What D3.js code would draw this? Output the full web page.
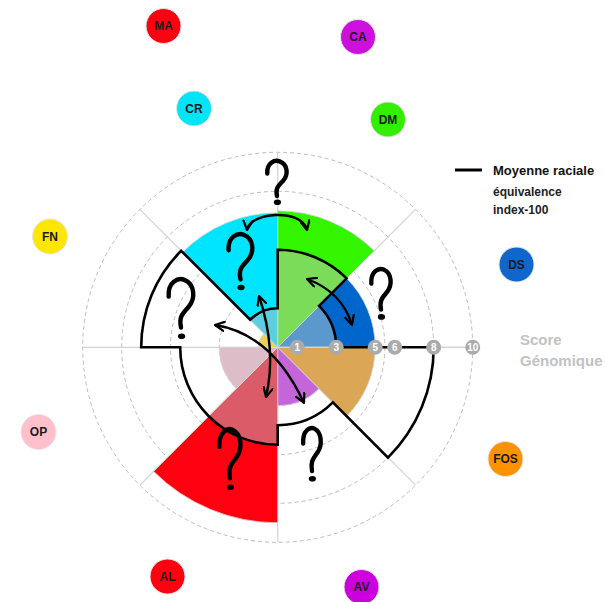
<!DOCTYPE html>
<html>
<head>
<meta charset="utf-8">
<script src="https://cdn.jsdelivr.net/npm/d3@7"></script>
<style>
  body { margin: 0; background: #fff; }
  svg { display: block; font-family: "Liberation Sans", Arial, sans-serif; }
</style>
</head>
<body>
<div class="chart"></div>
<script>
// sectors, clockwise from north
const categories = ["DM", "DS", "FOS", "AV", "AL", "OP", "FN", "CR"];
const scores = [7, 5, 5, 3, 9, 3, 1, 6.9];
const averages = [5, 3, 8, 4, 5, 5, 7, 2];
const brightColors = ["#33f500", "#0066cc", "#ff9900", "#cc00dd", "#ff0011", "#ffc0cb", "#ffe600", "#00e5ff"];
const lightColors = ["#7bdc5a", "#5b99cc", "#dba656", "#c465d9", "#db5b68", "#dcbdc8", "#e6d45a", "#5ccfdf"];

// floating bubbles
const bubbleLabels = ["MA", "CA", "CR", "DM", "FN", "DS", "OP", "FOS", "AL", "AV"];
const bubbleColors = ["#ff0011", "#cc11dd", "#00e5f5", "#33ee00", "#ffe600", "#1166cc", "#ffc0cb", "#ff9200", "#ff0011", "#cc00dd"];

const tickValues = [1, 3, 5, 6, 8, 10];
const dashedRings = [3, 5.5, 8, 10];

const width = 605;
const height = 602;
const cx = 277.7, cy = 347.3;

// layout of bubbles (pixels)
const bubblePos = [[163.5, 26], [358, 37], [194, 108.5], [388, 119.5], [50, 236.5],
                   [516.5, 264.5], [38.5, 432], [505.5, 459], [167.5, 576.5], [361.5, 587]];

const svg = d3.select(".chart").append("svg")
  .attr("width", width)
  .attr("height", height);

const r = d3.scaleLinear().domain([0, 10]).range([0, 195]);
const step = 2 * Math.PI / categories.length;

const g = svg.append("g").attr("transform", `translate(${cx},${cy})`);

// grid
g.selectAll(".ring").data(dashedRings).enter().append("circle")
  .attr("r", d => r(d))
  .attr("fill", "none")
  .attr("stroke", "#bdbdbd")
  .attr("stroke-width", 1)
  .attr("stroke-dasharray", "4,3");

g.selectAll(".spoke").data(categories).enter().append("line")
  .attr("x1", 0).attr("y1", 0)
  .attr("x2", (d, i) => r(10) * Math.sin(i * step))
  .attr("y2", (d, i) => -r(10) * Math.cos(i * step))
  .attr("stroke", "#d4d4d4")
  .attr("stroke-width", 1.2);

// fills
const arc = d3.arc();
const sectors = categories.map((c, i) => ({
  i, score: scores[i], avg: averages[i],
  startAngle: i * step, endAngle: (i + 1) * step
}));

// part above the average
g.selectAll(".outer").data(sectors.filter(d => d.score > d.avg)).enter().append("path")
  .attr("d", d => arc({innerRadius: r(d.avg), outerRadius: r(d.score), startAngle: d.startAngle, endAngle: d.endAngle}))
  .attr("fill", d => brightColors[d.i])
  .attr("stroke", "#d8d8d8")
  .attr("stroke-width", 0.8);

// part under the average
g.selectAll(".inner").data(sectors).enter().append("path")
  .attr("d", d => arc({innerRadius: 0, outerRadius: r(Math.min(d.score, d.avg)), startAngle: d.startAngle, endAngle: d.endAngle}))
  .attr("fill", d => lightColors[d.i])
  .attr("stroke", "#d8d8d8")
  .attr("stroke-width", 0.8);

// axis line on the right
g.append("line")
  .attr("x1", 0).attr("y1", 0).attr("x2", r(10)).attr("y2", 0)
  .attr("stroke", "#d4d4d4").attr("stroke-width", 1.2);

// moyenne raciale outline
const p = d3.path();
sectors.forEach((d, k) => {
  const a0 = d.startAngle - Math.PI / 2, a1 = d.endAngle - Math.PI / 2;
  if (k === 0) p.moveTo(r(d.avg) * Math.cos(a0), r(d.avg) * Math.sin(a0));
  p.arc(0, 0, r(d.avg), a0, a1);
});
p.closePath();
g.append("path")
  .attr("d", p.toString())
  .attr("fill", "none")
  .attr("stroke", "#000")
  .attr("stroke-width", 2.6)
  .attr("stroke-linejoin", "miter");

// tick badges
const ticks = g.selectAll(".tick").data(tickValues).enter().append("g")
  .attr("transform", d => `translate(${r(d)},0)`);
ticks.append("circle").attr("r", 7.5).attr("fill", "#ababab");
ticks.append("text")
  .attr("text-anchor", "middle")
  .attr("dy", "0.36em")
  .attr("fill", "#fff")
  .attr("font-size", 10)
  .attr("font-weight", "bold")
  .text(d => d);

// hand drawn question marks (bbox x, y, w, h)
const qMarks = [[266, 160, 22, 45], [227, 233, 27, 58], [167, 278, 28, 62],
                [370, 268, 22, 52], [302, 427, 20, 55], [218, 428, 24, 63]];
const qs = svg.selectAll(".q").data(qMarks).enter().append("g")
  .attr("transform", d => `translate(${d[0]},${d[1]})`);
qs.append("path")
  .attr("d", d => {
    const w = d[2], h = d[3];
    return `M${0.06 * w},${0.3 * h} C${0.02 * w},${0.06 * h} ${0.4 * w},${-0.01 * h} ${0.62 * w},${0.03 * h}` +
      ` C${1.0 * w},${0.1 * h} ${1.02 * w},${0.33 * h} ${0.78 * w},${0.46 * h}` +
      ` C${0.55 * w},${0.58 * h} ${0.42 * w},${0.62 * h} ${0.5 * w},${0.8 * h}`;
  })
  .attr("fill", "none")
  .attr("stroke", "#000")
  .attr("stroke-width", 4.4)
  .attr("stroke-linecap", "round");
qs.append("ellipse")
  .attr("cx", d => 0.52 * d[2])
  .attr("cy", d => 0.94 * d[3])
  .attr("rx", 3.6).attr("ry", 2.8)
  .attr("fill", "#000");

// double-headed arrows
const defs = svg.append("defs");
defs.append("marker")
  .attr("id", "head")
  .attr("viewBox", "0 0 12 12")
  .attr("refX", 11).attr("refY", 6)
  .attr("markerWidth", 11).attr("markerHeight", 11)
  .attr("markerUnits", "userSpaceOnUse")
  .attr("orient", "auto-start-reverse")
  .append("path")
  .attr("d", "M1,1 L11,6 L1,11")
  .attr("fill", "none")
  .attr("stroke", "#000")
  .attr("stroke-width", 2.4)
  .attr("stroke-linecap", "round")
  .attr("stroke-linejoin", "round");

const arrows = [
  "M247,230 C249,212 302,208 307,230",
  "M307,279 Q342,292 352,325",
  "M215,325 Q272,334 304,403",
  "M259,296 Q277,350 266,397"
];
svg.selectAll(".arrow").data(arrows).enter().append("path")
  .attr("d", d => d)
  .attr("fill", "none")
  .attr("stroke", "#000")
  .attr("stroke-width", 2.4)
  .attr("marker-start", "url(#head)")
  .attr("marker-end", "url(#head)");

// bubbles
const bubbles = svg.selectAll(".bubble").data(bubbleLabels).enter().append("g")
  .attr("transform", (d, i) => `translate(${bubblePos[i][0]},${bubblePos[i][1]})`);
bubbles.append("circle")
  .attr("r", 17.5)
  .attr("fill", (d, i) => bubbleColors[i])
  .attr("stroke", "#e6e6e6")
  .attr("stroke-width", 1);
bubbles.append("text")
  .attr("text-anchor", "middle")
  .attr("dy", "0.36em")
  .attr("font-size", 12)
  .attr("font-weight", "bold")
  .attr("fill", "#1a1a1a")
  .text(d => d);

// legend
svg.append("line")
  .attr("x1", 455).attr("x2", 482).attr("y1", 170).attr("y2", 170)
  .attr("stroke", "#000").attr("stroke-width", 3);
svg.append("text").attr("x", 493).attr("y", 175)
  .attr("font-size", 13).attr("font-weight", "bold").attr("fill", "#111")
  .text("Moyenne raciale");
svg.append("text").attr("x", 493).attr("y", 196)
  .attr("font-size", 12).attr("font-weight", "bold").attr("fill", "#222")
  .text("équivalence");
svg.append("text").attr("x", 493).attr("y", 214)
  .attr("font-size", 12).attr("font-weight", "bold").attr("fill", "#222")
  .text("index-100");

// axis title
svg.append("text").attr("x", 520).attr("y", 345)
  .attr("font-size", 15).attr("font-weight", "bold").attr("fill", "#c2c2c2")
  .text("Score");
svg.append("text").attr("x", 520).attr("y", 366)
  .attr("font-size", 15).attr("font-weight", "bold").attr("fill", "#c2c2c2")
  .text("Génomique");
</script>
</body>
</html>
